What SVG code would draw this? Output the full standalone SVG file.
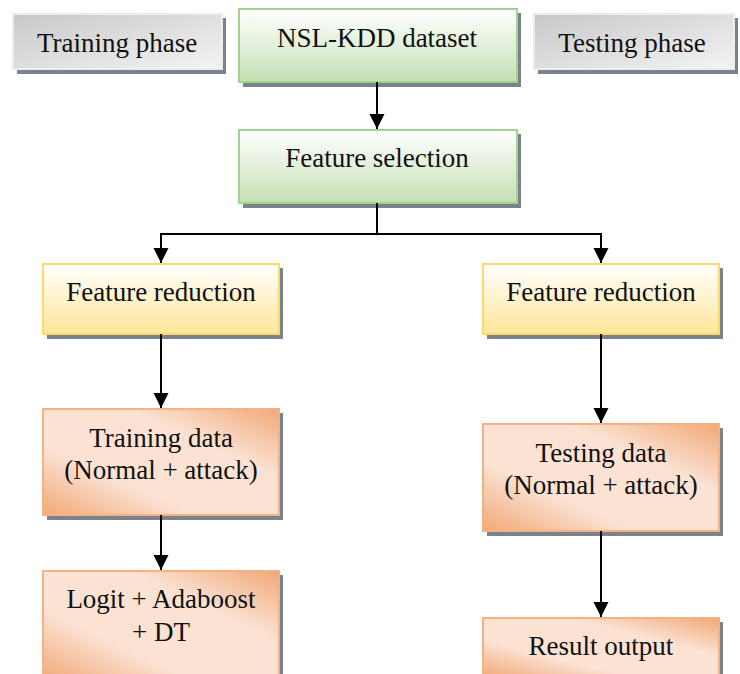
<svg xmlns="http://www.w3.org/2000/svg" width="740" height="674" viewBox="0 0 740 674">
<style>
text{font-family:'Liberation Serif',serif;font-size:27px;fill:#111;text-anchor:middle}
.sh{fill:#7a838c}
.gray{fill:url(#gGray);stroke:#ececec;stroke-width:2}
.green{fill:url(#gGreen);stroke:#9fd38e;stroke-width:2}
.yellow{fill:url(#gYellow);stroke:#ffd966;stroke-width:2}
.orange{fill:url(#gOrange);stroke:#f4b183;stroke-width:2}
.con{fill:none;stroke:#000;stroke-width:2}
</style>
<defs>
<linearGradient id="gGray" x1="0" y1="0" x2="1" y2="1">
<stop offset="0" stop-color="#c8c8c8"/><stop offset="1" stop-color="#f4f4f4"/>
</linearGradient>
<linearGradient id="gGreen" x1="0" y1="0" x2="0" y2="1">
<stop offset="0" stop-color="#ffffff"/><stop offset="1" stop-color="#c5e0b4"/>
</linearGradient>
<linearGradient id="gYellow" x1="0" y1="0" x2="0" y2="1">
<stop offset="0" stop-color="#ffffff"/><stop offset="1" stop-color="#ffe699"/>
</linearGradient>
<linearGradient id="gOrange" x1="0" y1="1" x2="1" y2="0">
<stop offset="0" stop-color="#f1a877"/><stop offset="0.32" stop-color="#fbe2d3"/><stop offset="0.68" stop-color="#fbe2d3"/><stop offset="1" stop-color="#f1a877"/>
</linearGradient>
<marker id="arr" markerUnits="userSpaceOnUse" markerWidth="16" markerHeight="16" viewBox="0 0 16 16" refX="15" refY="8" orient="auto">
<path d="M0,0.5 L15,8 L0,15.5 Z" fill="#000"/>
</marker>
</defs>

<g id="training_phase">
<rect class="sh" x="17" y="18" width="209" height="56"/>
<rect class="gray" x="13" y="14" width="209" height="55"/>
<text x="117" y="52" font-family="Liberation Serif, serif">Training phase</text>
</g>
<g id="nsl_kdd">
<rect class="sh" x="243" y="13" width="278" height="74"/>
<rect class="green" x="239" y="9" width="278" height="73"/>
<text x="377" y="47" font-family="Liberation Serif, serif">NSL-KDD dataset</text>
</g>
<g id="testing_phase">
<rect class="sh" x="538" y="18" width="200" height="56"/>
<rect class="gray" x="534" y="14" width="200" height="55"/>
<text x="632" y="52" font-family="Liberation Serif, serif">Testing phase</text>
</g>
<g id="feature_selection">
<rect class="sh" x="243" y="134" width="278" height="74"/>
<rect class="green" x="239" y="130" width="278" height="73"/>
<text x="377" y="167" font-family="Liberation Serif, serif">Feature selection</text>
</g>
<g id="feature_reduction_train">
<rect class="sh" x="47" y="268" width="236" height="71"/>
<rect class="yellow" x="43" y="264" width="236" height="70"/>
<text x="161" y="301" font-family="Liberation Serif, serif">Feature reduction</text>
</g>
<g id="feature_reduction_test">
<rect class="sh" x="487" y="268" width="236" height="71"/>
<rect class="yellow" x="483" y="264" width="236" height="70"/>
<text x="601" y="301" font-family="Liberation Serif, serif">Feature reduction</text>
</g>
<g id="training_data">
<rect class="sh" x="47" y="413" width="236" height="107"/>
<rect class="orange" x="43" y="409" width="236" height="106"/>
<text x="161" y="447" font-family="Liberation Serif, serif">Training data</text>
<text x="161" y="479" font-family="Liberation Serif, serif">(Normal + attack)</text>
</g>
<g id="testing_data">
<rect class="sh" x="487" y="428" width="236" height="108"/>
<rect class="orange" x="483" y="424" width="236" height="107"/>
<text x="601" y="462" font-family="Liberation Serif, serif">Testing data</text>
<text x="601" y="494" font-family="Liberation Serif, serif">(Normal + attack)</text>
</g>
<g id="classifier">
<rect class="sh" x="47" y="575" width="236" height="110"/>
<rect class="orange" x="43" y="571" width="236" height="110"/>
<text x="161" y="608" font-family="Liberation Serif, serif">Logit + Adaboost</text>
<text x="161" y="641" font-family="Liberation Serif, serif">+ DT</text>
</g>
<g id="result_output">
<rect class="sh" x="487" y="622" width="236" height="60"/>
<rect class="orange" x="483" y="618" width="236" height="60"/>
<text x="601" y="655" font-family="Liberation Serif, serif">Result output</text>
</g>

<g id="connectors">
<path class="con" d="M377,82 V129" marker-end="url(#arr)"/>
<path class="con" d="M377,203 V234 H161 V263" marker-end="url(#arr)"/>
<path class="con" d="M377,234 H601 V263" marker-end="url(#arr)"/>
<path class="con" d="M161,334 V408" marker-end="url(#arr)"/>
<path class="con" d="M601,334 V423" marker-end="url(#arr)"/>
<path class="con" d="M161,515 V570" marker-end="url(#arr)"/>
<path class="con" d="M601,531 V617" marker-end="url(#arr)"/>
</g>
</svg>
